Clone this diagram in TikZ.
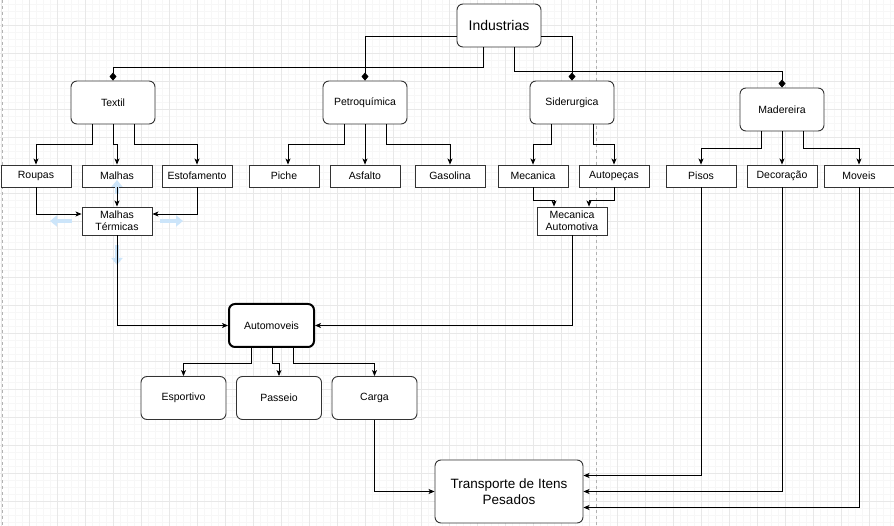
\documentclass[tikz,border=0pt]{standalone}
\usepackage{fontspec}
\setmainfont{Liberation Sans}
\usetikzlibrary{arrows.meta}

\begin{document}
\begin{tikzpicture}[x=1pt,y=-1pt,
    rbox/.style={draw=black!80,line width=0.9pt,fill=white,rounded corners=6pt,minimum width=84pt,minimum height=43pt,inner sep=0pt,font=\fontsize{10.5}{12}\selectfont},
    sbox/.style={draw=black!80,line width=0.9pt,fill=white,minimum width=70pt,minimum height=22pt,inner sep=0pt,font=\fontsize{10.5}{12}\selectfont,align=center},
    arr/.style={line width=0.9pt,-{Stealth[length=6pt,width=5pt,inset=1.5pt]}},
    dia/.style={line width=0.9pt,-{Diamond[length=8pt,width=7pt]}},
    hover/.style={line width=4pt,draw={rgb,255:red,204;green,229;blue,250},-{Triangle[length=7pt,width=11pt]}}]
    \useasboundingbox (0,0) rectangle (894,526);
    \fill[white] (0,0) rectangle (894,526);
    \foreach \x in {1.3,8.3,...,894} \draw[black!3,line width=0.6pt] (\x,0) -- (\x,526);
    \foreach \y in {4.3,11.3,...,526} \draw[black!3,line width=0.6pt] (0,\y) -- (894,\y);
    \foreach \x in {1.3,29.3,...,894} \draw[black!9,line width=0.7pt] (\x,0) -- (\x,526);
    \foreach \y in {25.3,53.3,...,526} \draw[black!9,line width=0.7pt] (0,\y) -- (894,\y);
    \draw[black!30,dashed,line width=0.7pt] (2,0) -- (2,526);
    \draw[black!30,dashed,line width=0.7pt] (596,0) -- (596,526);

    \node[rbox,font=\fontsize{14}{16}\selectfont] (ind) at (499,25.5) {Industrias};
    \node[rbox] (textil) at (113,102.5) {Textil};
    \node[rbox] (petro) at (365,102.5) {Petroquímica};
    \node[rbox] (sider) at (572,102.5) {Siderurgica};
    \node[rbox] (made) at (782,109.5) {Madereira};

    \node[sbox] (roupas) at (36,176) {Roupas};
    \node[sbox] (malhas) at (117,176) {Malhas};
    \node[sbox] (estof) at (197,176) {Estofamento};
    \node[sbox] (piche) at (284,176) {Piche};
    \node[sbox] (asfalto) at (365,176) {Asfalto};
    \node[sbox] (gasolina) at (450,176) {Gasolina};
    \node[sbox] (mecanica) at (533,176) {Mecanica};
    \node[sbox] (autopecas) at (614,176) {Autopeças};
    \node[sbox] (pisos) at (701,176) {Pisos};
    \node[sbox] (decor) at (782,176) {Decoração};
    \node[sbox] (moveis) at (859,176) {Moveis};

    \node[sbox,minimum height=28pt] (mt) at (117,221) {Malhas\\Térmicas};
    \node[sbox,minimum height=28pt] (ma) at (572,221) {Mecanica\\Automotiva};

    \node[rbox,line width=2pt,draw=black,minimum width=85pt] (auto) at (271.5,325.5) {Automoveis};
    \node[rbox,minimum width=85pt] (esport) at (183.5,398) {Esportivo};
    \node[rbox,minimum width=85pt] (passeio) at (279,398) {Passeio};
    \node[rbox,minimum width=85pt] (carga) at (374.5,398) {Carga};
    \node[rbox,minimum width=148pt,minimum height=63pt,align=center,font=\fontsize{13.5}{16.5}\selectfont] (transp) at (509,491.5) {Transporte de Itens\\Pesados};

    \draw[hover] (72,221) -- (50,221);
    \draw[hover] (160,221) -- (183,221);
    \draw[hover] (117,194) -- (117,180);
    \draw[hover] (117,245) -- (117,265);

    \draw[dia] ([yshift=-10.5pt]ind.west) -| (petro.north);
    \draw[dia] ([yshift=-10.5pt]ind.east) -| (sider.north);
    \draw[dia] ([xshift=-16pt]ind.south) -- ++(0,20) -| (textil.north);
    \draw[dia] ([xshift=15pt]ind.south) -- ++(0,24) -| (made.north);

    \draw[arr] ([xshift=-21pt]textil.south) -- ++(0,20) -| (roupas.north);
    \draw[arr] (textil.south) -- ++(0,20) -| (malhas.north);
    \draw[arr] ([xshift=21pt]textil.south) -- ++(0,20) -| (estof.north);
    \draw[arr] ([xshift=-21pt]petro.south) -- ++(0,20) -| ([xshift=4pt]piche.north);
    \draw[arr] (petro.south) -- (asfalto.north);
    \draw[arr] ([xshift=21pt]petro.south) -- ++(0,20) -| (gasolina.north);
    \draw[arr] ([xshift=-21pt]sider.south) -- ++(0,20) -| (mecanica.north);
    \draw[arr] ([xshift=21pt]sider.south) -- ++(0,20) -| (autopecas.north);
    \draw[arr] ([xshift=-21pt]made.south) -- ++(0,17) -| (pisos.north);
    \draw[arr] (made.south) -- (decor.north);
    \draw[arr] ([xshift=21pt]made.south) -- ++(0,17) -| (moveis.north);

    \draw[arr] (roupas.south) |- ([yshift=7pt]mt.west);
    \draw[arr] (malhas.south) -- (mt.north);
    \draw[arr] (estof.south) |- ([yshift=7pt]mt.east);
    \draw[arr] (mecanica.south) -- ++(0,13) -| ([xshift=-18pt]ma.north);
    \draw[arr] (autopecas.south) -- ++(0,13) -| ([xshift=17pt]ma.north);

    \draw[arr] (mt.south) |- (auto.west);
    \draw[arr] (ma.south) |- (auto.east);
    \draw[arr] ([xshift=-20pt]auto.south) -- ++(0,15) -| (esport.north);
    \draw[arr] ([xshift=0.5pt]auto.south) -- ++(0,15) -| (passeio.north);
    \draw[arr] ([xshift=21.5pt]auto.south) -- ++(0,15) -| (carga.north);

    \draw[arr] (carga.south) |- (transp.west);
    \draw[arr] (pisos.south) |- ([yshift=16pt]transp.east);
    \draw[arr] (decor.south) |- (transp.east);
    \draw[arr] (moveis.south) |- ([yshift=-16pt]transp.east);
\end{tikzpicture}
\end{document}
